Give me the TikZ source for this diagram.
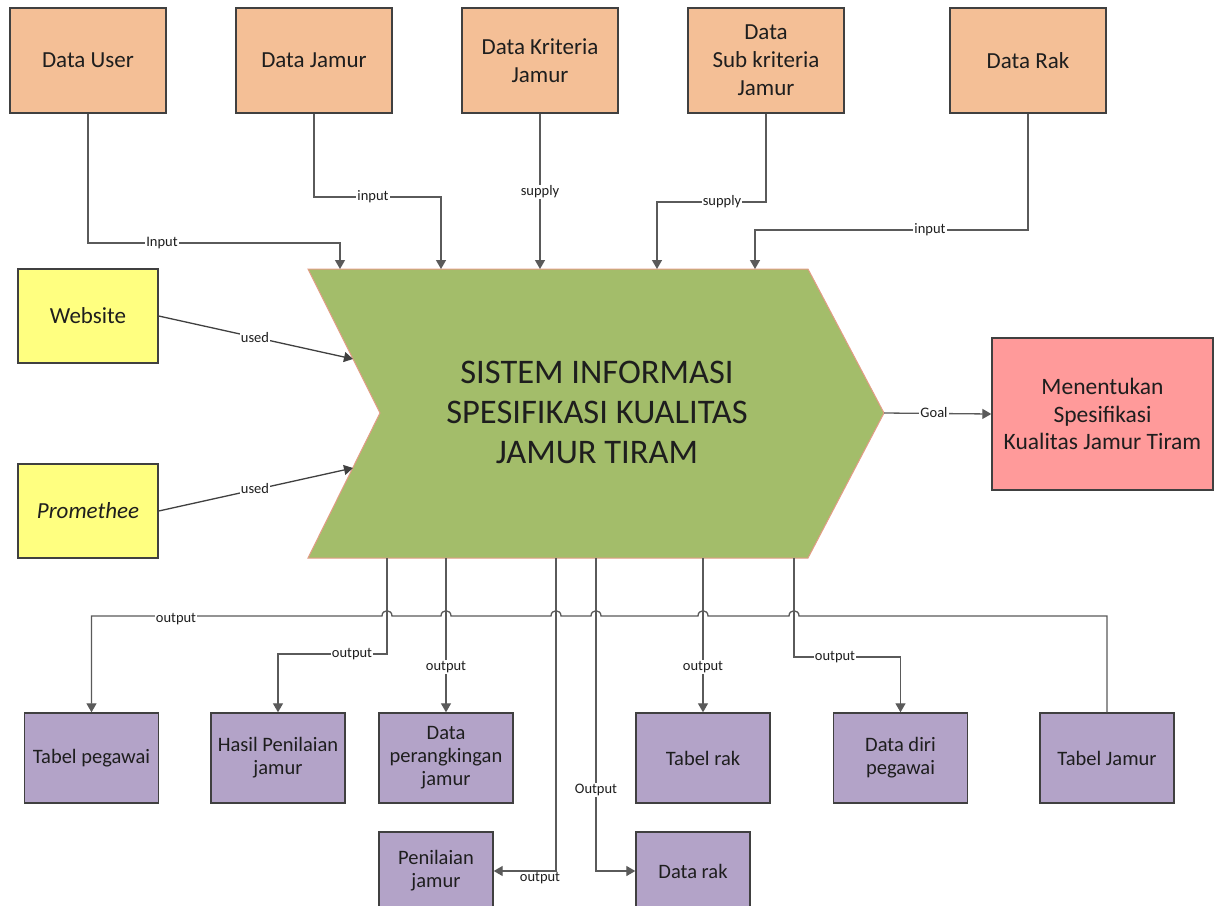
\documentclass[tikz,border=0pt]{standalone}
\usepackage{fontspec}
\setmainfont{Carlito}
\usetikzlibrary{arrows.meta}
\definecolor{boxline}{HTML}{404040}
\definecolor{srcfill}{HTML}{F4BF96}
\definecolor{toolfill}{HTML}{FFFF80}
\definecolor{outfill}{HTML}{B3A3C8}
\definecolor{goalfill}{HTML}{FF9A9A}
\definecolor{sysfill}{HTML}{A3BD6A}
\definecolor{sysline}{HTML}{E39C86}
\definecolor{wire}{HTML}{5A5A5A}
\definecolor{ink}{HTML}{1E1E1E}
\begin{document}
\begin{tikzpicture}[x=1pt,y=-1pt,
  box/.style={draw=boxline, line width=1.4pt, text=ink, align=center, inner sep=2pt},
  srcbox/.style={box, fill=srcfill, minimum width=156pt, minimum height=105pt,
    font=\fontsize{23}{28}\selectfont},
  toolbox/.style={box, fill=toolfill, minimum width=140pt, minimum height=94pt,
    font=\fontsize{23}{28}\selectfont},
  goalbox/.style={box, fill=goalfill, minimum width=221pt, minimum height=152pt,
    font=\fontsize{23.5}{27.5}\selectfont},
  outbox/.style={box, fill=outfill, minimum width=134pt, minimum height=90pt,
    font=\fontsize{20.5}{23}\selectfont},
  smallout/.style={box, fill=outfill, minimum width=114pt, minimum height=78pt,
    font=\fontsize{20.5}{23}\selectfont},
  conn/.style={draw=wire, line width=1.3pt, -{Triangle[width=10pt,length=9pt]}},
  lbl/.style={fill=white, inner sep=1pt, text=ink, font=\fontsize{14.5}{16}\selectfont},
]
\useasboundingbox (0,0) rectangle (1217,905);
\clip (0,0) rectangle (1217,905);
\fill[white] (0,0) rectangle (1217,905);

% central system chevron
\draw[fill=sysfill, draw=sysline, line width=1pt]
  (308,269) -- (808,269) -- (884,413) -- (808,558) -- (308,558) -- (380,413) -- cycle;
\node[text=ink, align=center, font=\fontsize{34.5}{40}\selectfont] (sys) at (597,412)
  {SISTEM INFORMASI\\SPESIFIKASI KUALITAS\\JAMUR TIRAM};

% attachment points on the chevron
\coordinate (in1) at (340,269);
\coordinate (in2) at (441,269);
\coordinate (in3) at (540,269);
\coordinate (in4) at (657,269);
\coordinate (in5) at (755,269);
\coordinate (useA) at (353,359);
\coordinate (useB) at (353,468);
\coordinate (tip) at (884,413);
\coordinate (out1) at (387,558);
\coordinate (out2) at (446,558);
\coordinate (out3) at (556,558);
\coordinate (out4) at (596,558);
\coordinate (out5) at (703,558);
\coordinate (out6) at (794,558);

% data sources
\node[srcbox] (user) at (88,60.5) {Data User};
\node[srcbox] (jamur) at (314,60.5) {Data Jamur};
\node[srcbox] (kriteria) at (540,60.5) {Data Kriteria\\Jamur};
\node[srcbox] (sub) at (766,60.5) {Data\\Sub kriteria\\Jamur};
\node[srcbox] (rak) at (1028,60.5) {Data Rak};

% tools
\node[toolbox] (website) at (88,316) {Website};
\node[toolbox] (promethee) at (88,511) {\itshape Promethee};

% goal
\node[goalbox] (goal) at (1102.5,414) {Menentukan\\Spesifikasi\\Kualitas Jamur Tiram};

% outputs
\node[outbox] (tpeg) at (91.5,758) {Tabel pegawai};
\node[outbox] (hasil) at (278,758) {Hasil Penilaian\\jamur};
\node[outbox] (dper) at (446,758) {Data\\perangkingan\\jamur};
\node[outbox] (trak) at (703,758) {Tabel rak};
\node[outbox] (ddiri) at (900.5,758) {Data diri\\pegawai};
\node[outbox] (tjamur) at (1107,758) {Tabel Jamur};
\node[smallout] (pjamur) at (436,871) {Penilaian\\jamur};
\node[smallout] (drak) at (693,871) {Data rak};

% inputs into the system
\draw[conn] (user.south) |- (340,243) -- (in1);
\draw[conn] (jamur.south) |- (441,197) -- (in2);
\draw[conn] (kriteria.south) -- (in3);
\draw[conn] (sub.south) |- (657,202) -- (in4);
\draw[conn] (rak.south) |- (755,230) -- (in5);
\draw[conn, draw=ink!85] (website.east) -- (useA);
\draw[conn, draw=ink!85] (promethee.east) -- (useB);
\draw[conn] (tip) -- (goal.west);

% outputs of the system
\draw[conn] (out1) |- (278,654) -- (hasil.north);
\draw[conn] (out2) -- (dper.north);
\draw[conn] (out3) |- (pjamur.east);
\draw[conn] (out4) |- (drak.west);
\draw[conn] (out5) -- (trak.north);
\draw[conn] (out6) |- (900.5,657) -- (ddiri.north);

% long connector with line jumps over the vertical wires
\draw[conn] (tjamur.north) -- (1107,616)
  foreach \c in {794,703,596,556,446,387} {
    -- (\c+5,616) .. controls (\c+5,609) and (\c-5,609) .. (\c-5,616)
  } -- (91.5,616) -- (tpeg.north);

% connector labels
\node[lbl] (l1) at (162,243) {Input};
\node[lbl] (l2) at (373,197) {input};
\node[lbl] (l3) at (540,192) {supply};
\node[lbl] (l4) at (722,202) {supply};
\node[lbl] (l5) at (930,230) {input};
\node[lbl] (l6) at (255,338) {used};
\node[lbl] (l7) at (255,489) {used};
\node[lbl] (l8) at (934,413) {Goal};
\node[lbl] (l9) at (176,619) {output};
\node[lbl] (l10) at (352,654) {output};
\node[lbl] (l11) at (446,667) {output};
\node[lbl, fill=none, anchor=north] (l12) at (540,871) {output};
\node[lbl] (l13) at (596,790) {Output};
\node[lbl] (l14) at (703,667) {output};
\node[lbl] (l15) at (835,657) {output};
\end{tikzpicture}
\end{document}
